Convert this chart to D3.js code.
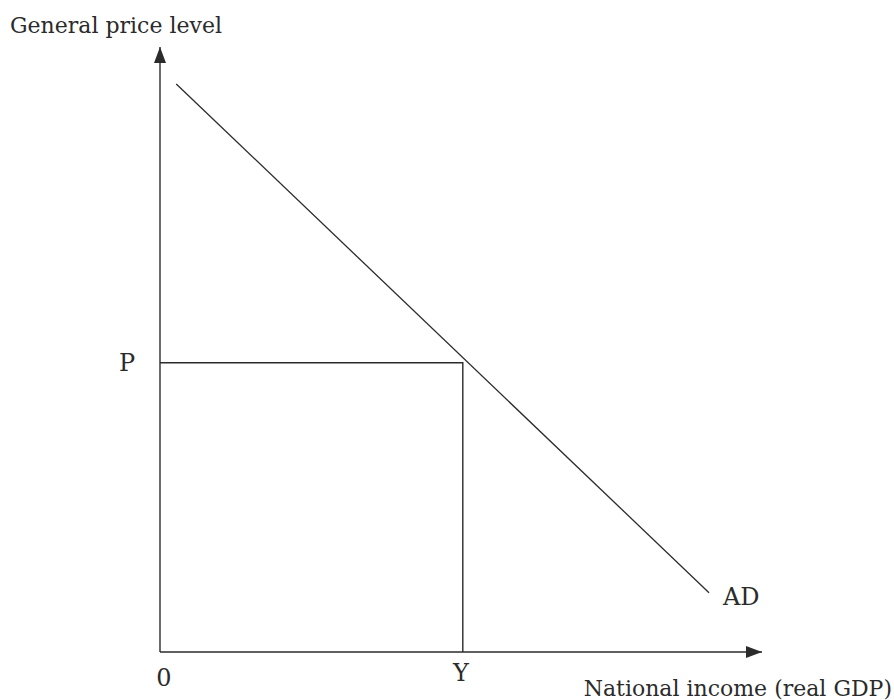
<!DOCTYPE html>
<html>
<head>
<meta charset="utf-8">
<script src="https://cdn.jsdelivr.net/npm/d3@7"></script>
<style>
  body { margin: 0; background: #fff; }
  text { font-family: "DejaVu Serif", serif; fill: #2b2b2b; }
</style>
</head>
<body>
<div id="chart"></div>
<script>
// aggregate demand curve, in abstract units (0-100 on both axes)
var adLine = [
  { x: 2.7, y: 93.9 },
  { x: 91.2, y: 9.8 }
];
// equilibrium point
var equilibrium = { x: 50.3, y: 47.8, xLabel: "Y", yLabel: "P" };
var axisTitles = { x: "National income (real GDP)", y: "General price level" };
var curveLabel = "AD";
var originLabel = "0";

var width = 894, height = 700;

var svg = d3.select("#chart")
  .append("svg")
  .attr("width", width)
  .attr("height", height);

var x = d3.scaleLinear().domain([0, 100]).range([160, 762]);
var y = d3.scaleLinear().domain([0, 100]).range([652, 47]);

var ink = "#2b2b2b";

// arrow heads
var defs = svg.append("defs");
defs.append("marker")
  .attr("id", "arrow")
  .attr("viewBox", "0 0 16 12")
  .attr("refX", 16)
  .attr("refY", 6)
  .attr("markerWidth", 16)
  .attr("markerHeight", 12)
  .attr("markerUnits", "userSpaceOnUse")
  .attr("orient", "auto")
  .append("path")
  .attr("d", "M0,0 L16,6 L0,12 Z")
  .attr("fill", ink);

// axes
svg.append("line")
  .attr("x1", x(0)).attr("y1", y(0))
  .attr("x2", x(100)).attr("y2", y(0))
  .attr("stroke", ink).attr("stroke-width", 1.4)
  .attr("marker-end", "url(#arrow)");

svg.append("line")
  .attr("x1", x(0)).attr("y1", y(0))
  .attr("x2", x(0)).attr("y2", y(100))
  .attr("stroke", ink).attr("stroke-width", 1.4)
  .attr("marker-end", "url(#arrow)");

// AD curve
var line = d3.line()
  .x(function(d) { return x(d.x); })
  .y(function(d) { return y(d.y); });

svg.append("path")
  .datum(adLine)
  .attr("d", line)
  .attr("fill", "none")
  .attr("stroke", ink)
  .attr("stroke-width", 1.3);

// guide lines to the equilibrium
svg.append("polyline")
  .attr("points", [
    [x(0), y(equilibrium.y)],
    [x(equilibrium.x), y(equilibrium.y)],
    [x(equilibrium.x), y(0)]
  ].join(" "))
  .attr("fill", "none")
  .attr("stroke", ink)
  .attr("stroke-width", 1.4);

// labels
svg.append("text")
  .attr("x", 10).attr("y", 33)
  .attr("font-size", 22)
  .text(axisTitles.y);

svg.append("text")
  .attr("x", 892).attr("y", 696)
  .attr("text-anchor", "end")
  .attr("font-size", 22)
  .text(axisTitles.x);

svg.append("text")
  .attr("x", x(0) - 33).attr("y", y(equilibrium.y) + 8)
  .attr("text-anchor", "middle")
  .attr("font-size", 24)
  .text(equilibrium.yLabel);

svg.append("text")
  .attr("x", x(equilibrium.x) - 2).attr("y", y(0) + 29)
  .attr("text-anchor", "middle")
  .attr("font-size", 24)
  .text(equilibrium.xLabel);

svg.append("text")
  .attr("x", x(0) + 4).attr("y", y(0) + 34)
  .attr("text-anchor", "middle")
  .attr("font-size", 24)
  .text(originLabel);

var adEnd = adLine[adLine.length - 1];
svg.append("text")
  .attr("x", x(adEnd.x) + 14).attr("y", y(adEnd.y) + 12)
  .attr("font-size", 24)
  .text(curveLabel);
</script>
</body>
</html>
